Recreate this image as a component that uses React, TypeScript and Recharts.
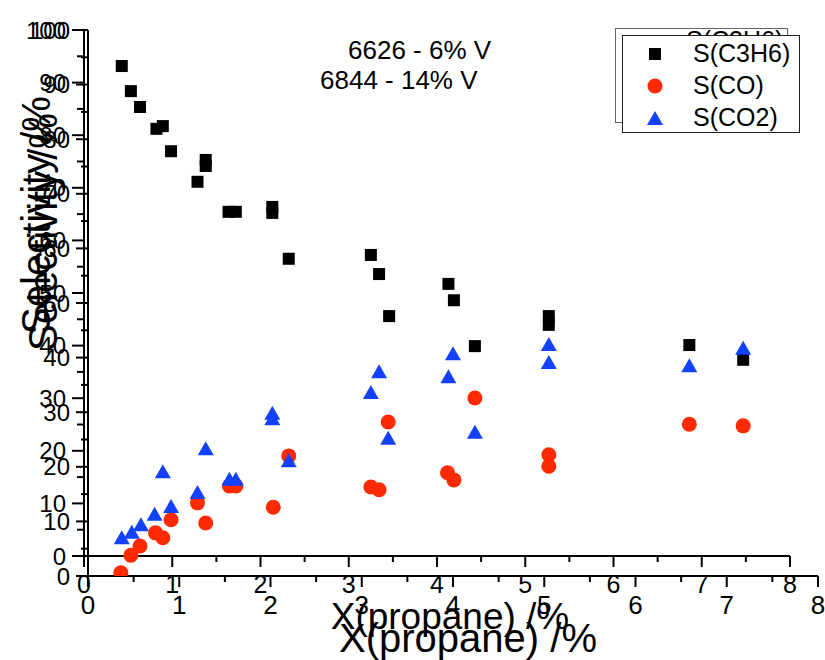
import React from 'react';
import { ScatterChart, Scatter, XAxis, YAxis, Legend, Label } from 'recharts';

const FONT = '"Liberation Sans", Arial, Helvetica, sans-serif';

const seriesNames = ['S(C3H6)', 'S(CO)', 'S(CO2)'];
const seriesColors = ['#000000', '#ff2a00', '#1440ff'];

// propylene selectivity
const c3h6X = [0.37, 0.47, 0.57, 0.75, 0.82, 0.91, 1.29, 1.29, 1.2, 1.54, 1.62, 2.02, 2.02, 2.2, 3.1, 3.19, 3.3, 3.95, 4.01, 4.24, 5.05, 5.05, 6.59, 7.18];
const c3h6Y = [93.4, 88.8, 85.9, 81.9, 82.4, 77.8, 76.2, 75.1, 72.2, 66.7, 66.7, 67.6, 66.5, 58.1, 58.8, 55.3, 47.6, 53.5, 50.5, 42.1, 47.6, 46.0, 42.3, 39.6];

// CO selectivity
const coX = [0.36, 0.47, 0.57, 0.74, 0.82, 0.91, 1.2, 1.29, 1.55, 1.62, 2.03, 2.2, 3.1, 3.19, 3.29, 3.94, 4.01, 4.24, 5.05, 5.05, 6.59, 7.18];
const coY = [0.6, 3.8, 5.5, 7.9, 7.0, 10.3, 13.4, 9.7, 16.5, 16.5, 12.6, 22.0, 16.3, 15.8, 28.2, 18.9, 17.6, 32.6, 22.2, 20.1, 27.8, 27.5];

// CO2 selectivity
const co2X = [0.37, 0.48, 0.58, 0.73, 0.91, 0.82, 1.2, 1.29, 1.55, 1.62, 2.02, 2.02, 2.2, 3.19, 3.1, 3.29, 4.0, 3.95, 4.24, 5.05, 5.05, 6.59, 7.18];
const co2Y = [7.1, 8.1, 9.5, 11.4, 12.8, 19.2, 15.4, 23.4, 17.8, 17.8, 29.9, 28.9, 21.2, 37.5, 33.7, 25.3, 40.8, 36.6, 26.4, 42.5, 39.2, 38.6, 41.8];

const xTicks = [0, 0.5, 1, 1.5, 2, 2.5, 3, 3.5, 4, 4.5, 5, 5.5, 6, 6.5, 7, 7.5, 8];
const yTicks = [0, 5, 10, 15, 20, 25, 30, 35, 40, 45, 50, 55, 60, 65, 70, 75, 80, 85, 90, 95, 100];
const notes = ['6626 - 6% V', '6844 - 14% V'];
const xTitle = 'X(propane) /%';
const yTitle = 'Selectivity /%';

const toPoints = (xs: number[], ys: number[]) => xs.map((x, i) => ({ x, y: ys[i] }));

function Marker({ kind, cx, cy }: { kind: number; cx: number; cy: number }) {
  if (kind === 0) return <rect x={cx - 6} y={cy - 6} width={12} height={12} fill={seriesColors[0]} />;
  if (kind === 1) return <circle cx={cx} cy={cy} r={7.5} fill={seriesColors[1]} />;
  return (
    <polygon
      points={`${cx},${cy - 7} ${cx - 8},${cy + 7} ${cx + 8},${cy + 7}`}
      fill={seriesColors[2]}
    />
  );
}

function XTick(props: any) {
  const { x, y, payload, fontSize } = props;
  const major = Number.isInteger(payload.value);
  return (
    <g>
      <line x1={x} y1={y} x2={x} y2={y + (major ? 11 : 6)} stroke="#000" strokeWidth={2} />
      {major && (
        <text x={x} y={y + 19 + fontSize * 0.716} textAnchor="middle" fontSize={fontSize} fontFamily={FONT} fill="#000">
          {payload.value}
        </text>
      )}
    </g>
  );
}

function YTick(props: any) {
  const { x, y, payload, fontSize } = props;
  const major = payload.value % 10 === 0;
  return (
    <g>
      <line x1={x} y1={y} x2={x - (major ? 12 : 7)} y2={y} stroke="#000" strokeWidth={2} />
      {major && (
        <text x={x - 18} y={y + fontSize * 0.36} textAnchor="end" fontSize={fontSize} fontFamily={FONT} fill="#000">
          {payload.value}
        </text>
      )}
    </g>
  );
}

function LegendBox({ border, rowStart }: { border: string; rowStart: number }) {
  return (
    <div style={{ width: '100%', height: '100%', boxSizing: 'border-box', border: `1.5px solid ${border}`, background: '#fff', position: 'relative' }}>
      <svg width="100%" height="100%" style={{ position: 'absolute', left: 0, top: 0, overflow: 'visible' }}>
        {seriesNames.map((name, i) => (
          <g key={name}>
            <Marker kind={i} cx={32} cy={rowStart + i * 32} />
            <text x={70} y={rowStart + i * 32 + 8} fontSize={25} fontFamily={FONT} fill="#000">
              {name}
            </text>
          </g>
        ))}
      </svg>
    </div>
  );
}

interface Geo {
  left: number;
  right: number;
  top: number;
  bottom: number;
  tickX: number;
  tickY: number;
  xTitleX: number;
  xTitleY: number;
  xTitleSize: number;
  yTitleX: number;
  yTitleY: number;
  legend: { left: number; top: number; width: number; height: number; border: string; rowStart: number };
}

const geoA: Geo = {
  left: 84, right: 790, top: 30, bottom: 556,
  tickX: 25, tickY: 24,
  xTitleX: 450, xTitleY: 629, xTitleSize: 37,
  yTitleX: 50, yTitleY: 215,
  legend: { left: 615, top: 28, width: 173, height: 95, border: '#666', rowStart: 12 },
};

const geoB: Geo = {
  left: 88, right: 818, top: 30, bottom: 576,
  tickX: 26, tickY: 24,
  xTitleX: 468, xTitleY: 652, xTitleSize: 40,
  yTitleX: 57, yTitleY: 232,
  legend: { left: 622, top: 35, width: 178, height: 98, border: '#222', rowStart: 18 },
};

function Frame({ g, withData }: { g: Geo; withData: boolean }) {
  const YW = 60;
  const XH = 60;
  return (
    <div style={{ position: 'absolute', left: 0, top: 0 }}>
      <ScatterChart
        width={825}
        height={660}
        margin={{ top: g.top, left: g.left - YW, right: 825 - g.right, bottom: 660 - g.bottom - XH }}
      >
        <XAxis
          type="number"
          dataKey="x"
          domain={[0, 8]}
          ticks={xTicks}
          interval={0}
          allowDataOverflow
          height={XH}
          tickSize={0}
          tickMargin={0}
          tickLine={false}
          axisLine={{ stroke: '#000', strokeWidth: 2 }}
          tick={(p: any) => <XTick {...p} fontSize={g.tickX} />}
        >
          <Label
            content={() => (
              <text x={g.xTitleX} y={g.xTitleY} textAnchor="middle" fontSize={g.xTitleSize} fontFamily={FONT} fill="#000">
                {xTitle}
              </text>
            )}
          />
        </XAxis>
        <YAxis
          type="number"
          dataKey="y"
          domain={[0, 100]}
          ticks={yTicks}
          interval={0}
          allowDataOverflow
          width={YW}
          tickSize={0}
          tickMargin={0}
          tickLine={false}
          axisLine={{ stroke: '#000', strokeWidth: 2 }}
          tick={(p: any) => <YTick {...p} fontSize={g.tickY} />}
        >
          <Label
            content={() => (
              <text
                x={g.yTitleX}
                y={g.yTitleY}
                textAnchor="middle"
                fontSize={40}
                fontFamily={FONT}
                fill="#000"
                transform={`rotate(-90, ${g.yTitleX}, ${g.yTitleY})`}
              >
                {yTitle}
              </text>
            )}
          />
        </YAxis>
        <Legend
          layout="vertical"
          align="center"
          verticalAlign="middle"
          wrapperStyle={{ left: g.legend.left, top: g.legend.top, width: g.legend.width, height: g.legend.height }}
          content={() => <LegendBox border={g.legend.border} rowStart={g.legend.rowStart} />}
        />
        {withData && (
          <Scatter
            name={seriesNames[0]}
            data={toPoints(c3h6X, c3h6Y)}
            isAnimationActive={false}
            shape={(p: any) => <Marker kind={0} cx={p.cx} cy={p.cy} />}
          />
        )}
        {withData && (
          <Scatter
            name={seriesNames[1]}
            data={toPoints(coX, coY)}
            isAnimationActive={false}
            shape={(p: any) => <Marker kind={1} cx={p.cx} cy={p.cy} />}
          />
        )}
        {withData && (
          <Scatter
            name={seriesNames[2]}
            data={toPoints(co2X, co2Y)}
            isAnimationActive={false}
            shape={(p: any) => <Marker kind={2} cx={p.cx} cy={p.cy} />}
          />
        )}
      </ScatterChart>
    </div>
  );
}

export default function App() {
  return (
    <div style={{ position: 'absolute', left: 0, top: 0, width: 825, height: 660, background: '#fff', overflow: 'hidden' }}>
      <Frame g={geoA} withData={false} />
      <Frame g={geoB} withData />
      <svg width={825} height={660} style={{ position: 'absolute', left: 0, top: 0, pointerEvents: 'none' }}>
        <text x={348} y={59} fontSize={26} fontFamily={FONT} fill="#000">{notes[0]}</text>
        <text x={320} y={89} fontSize={26} fontFamily={FONT} fill="#000">{notes[1]}</text>
      </svg>
    </div>
  );
}
